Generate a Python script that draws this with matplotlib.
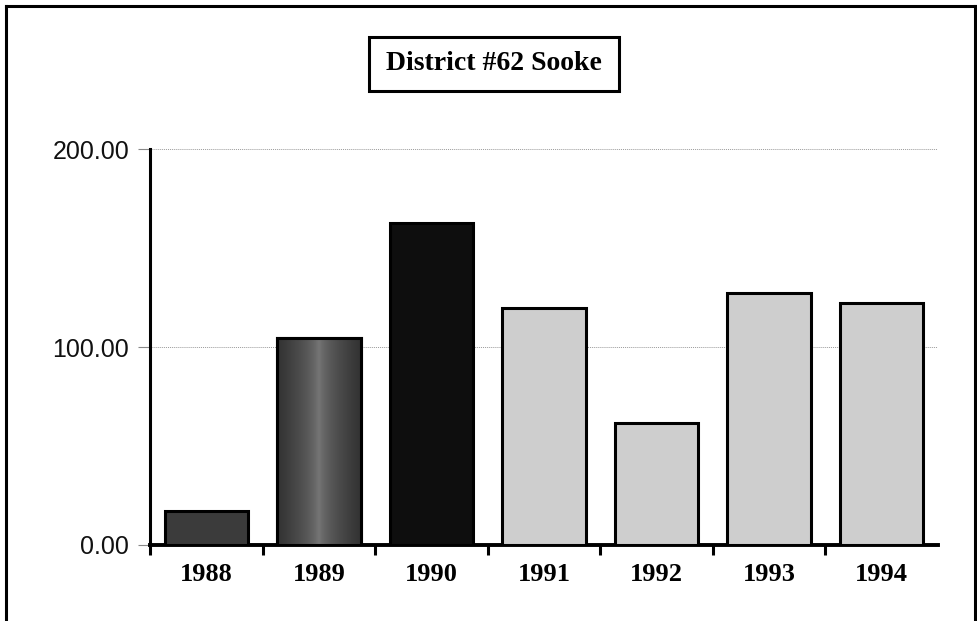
import numpy as np
import matplotlib
matplotlib.use("Agg")
import matplotlib.pyplot as plt
from matplotlib.patches import Rectangle
from matplotlib.lines import Line2D
from matplotlib.ticker import FixedLocator, FormatStrFormatter

years = ["1988", "1989", "1990", "1991", "1992", "1993", "1994"]
values = [17.2, 104.5, 162.6, 119.7, 61.6, 127.3, 122.2]
bar_colors = ["#3b3b3b", "#3a3a3a", "#0e0e0e", "#cecece", "#cecece", "#cecece", "#cecece"]
title = "District #62 Sooke"

W, H = 977, 621
fig = plt.figure(figsize=(W / 100, H / 100), dpi=100)
fig.patch.set_facecolor("white")

# axes box in pixel terms
left, right, bottom, top = 150, 938, 545, 149
ax = fig.add_axes([left / W, 1 - bottom / H, (right - left) / W, (bottom - top) / H])

x = np.arange(len(years))
bars = ax.bar(x, values, width=0.74, color=bar_colors, edgecolor="black",
              linewidth=2.2, zorder=3)

# soft vertical highlight through the 1989 bar
b = bars[1]
grad = np.abs(np.linspace(-1, 1, 64)) ** 0.6
grad = np.tile(grad, (2, 1))
im = ax.imshow(grad, cmap="gray_r", vmin=-1.86, vmax=1.71, aspect="auto",
               extent=(b.get_x(), b.get_x() + b.get_width(), 0, b.get_height()),
               zorder=3.5, interpolation="bicubic")
im.set_clip_path(b)
ax.add_patch(Rectangle((b.get_x(), 0), b.get_width(), b.get_height(),
                       fill=False, edgecolor="black", linewidth=2.2, zorder=4))

ax.set_xlim(-0.5, len(years) - 0.5)
ax.set_ylim(0, 200)

# y axis
ax.yaxis.set_major_locator(FixedLocator([0, 100, 200]))
ax.yaxis.set_major_formatter(FormatStrFormatter("%.2f"))
ax.tick_params(axis="y", length=9, width=0.8, color="#888888", pad=6,
               labelsize=18, labelcolor="#111111")
for lab in ax.get_yticklabels():
    lab.set_family(["Liberation Sans", "DejaVu Sans"])
ax.grid(axis="y", linestyle=(0, (1, 1)), color="#9a9a9a", linewidth=0.7, zorder=0)

# x axis: labels at centres, tick marks between categories
ax.set_xticks(x)
ax.set_xticklabels(years, fontsize=19, fontweight="bold",
                   family=["Liberation Serif", "DejaVu Serif"])
ax.tick_params(axis="x", which="major", length=0, pad=13)
ax.set_xticks(np.arange(-0.5, len(years) - 1), minor=True)
ax.tick_params(axis="x", which="minor", length=7, width=2.2, color="black",
               direction="out")

for side in ("top", "right"):
    ax.spines[side].set_visible(False)
ax.spines["left"].set_linewidth(2.2)
ax.spines["bottom"].set_linewidth(2.8)

# outer frame (open at the bottom)
frame = dict(color="black", linewidth=2.2, transform=fig.transFigure)
fig.add_artist(Line2D([6 / W, 6 / W], [0, 1 - 6 / H], **frame))
fig.add_artist(Line2D([6 / W, 975 / W], [1 - 6 / H, 1 - 6 / H], **frame))
fig.add_artist(Line2D([975 / W, 975 / W], [0, 1 - 6 / H], **frame))

# boxed title
bx0, bx1, by0, by1 = 369, 619, 37, 91
fig.add_artist(Rectangle((bx0 / W, 1 - by1 / H), (bx1 - bx0) / W, (by1 - by0) / H,
                         fill=False, edgecolor="black", linewidth=2.2,
                         transform=fig.transFigure))
fig.text((bx0 + bx1) / 2 / W, 1 - 64 / H, title, ha="center", va="center",
         fontsize=20, fontweight="bold", family=["Liberation Serif", "DejaVu Serif"])

fig.savefig("out.png", dpi=100)
